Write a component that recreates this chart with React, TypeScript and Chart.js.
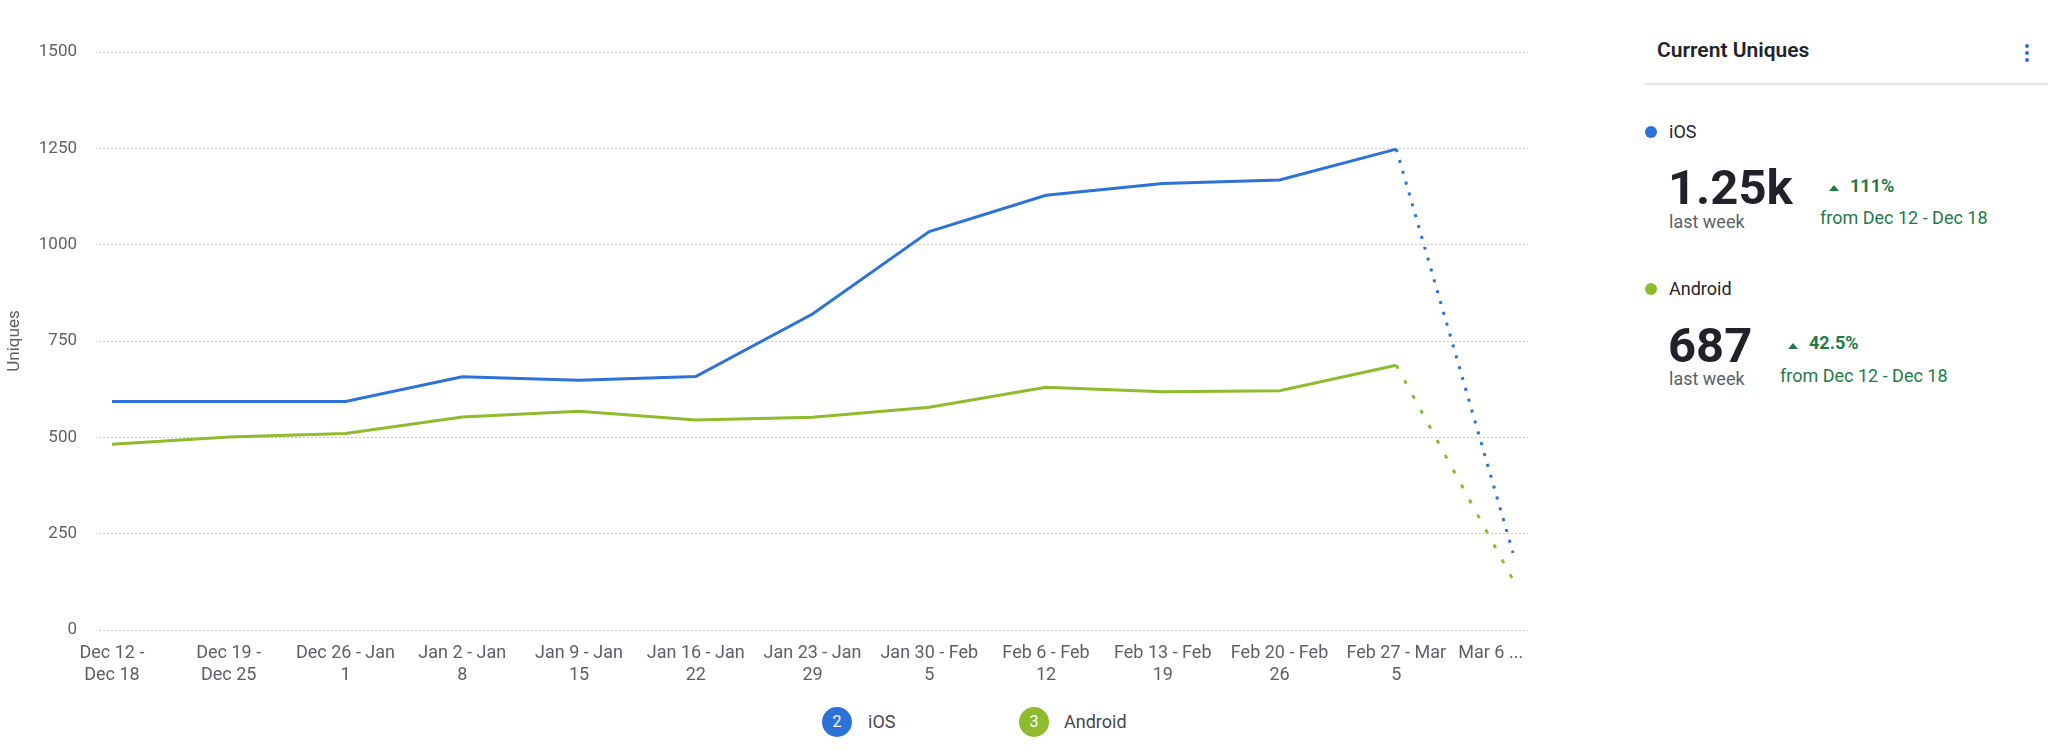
import React, { useEffect, useRef } from "react";
import { Chart, registerables } from "chart.js";

Chart.register(...registerables);

const categories: string[][] = [
  ["Dec 12 -", "Dec 18"],
  ["Dec 19 -", "Dec 25"],
  ["Dec 26 - Jan", "1"],
  ["Jan 2 - Jan", "8"],
  ["Jan 9 - Jan", "15"],
  ["Jan 16 - Jan", "22"],
  ["Jan 23 - Jan", "29"],
  ["Jan 30 - Feb", "5"],
  ["Feb 6 - Feb", "12"],
  ["Feb 13 - Feb", "19"],
  ["Feb 20 - Feb", "26"],
  ["Feb 27 - Mar", "5"],
  ["Mar 6 ..."],
];

const iosValues: number[] = [593, 593, 593, 657, 648, 658, 820, 1034, 1128, 1159, 1168, 1248, 200];
const androidValues: number[] = [482, 501, 510, 553, 568, 545, 552, 578, 630, 618, 621, 687, 130];

const yTicks: number[] = [0, 250, 500, 750, 1000, 1250, 1500];

const IOS_COLOR = "#2c72d9";
const ANDROID_COLOR = "#8fbb2f";
const GREEN_TEXT = "#1f7a48";
const DARK = "#1f2329";
const FONT = "Roboto, 'Open Sans', sans-serif";

function ChartCanvas() {
  const ref = useRef<HTMLCanvasElement | null>(null);
  useEffect(() => {
    if (!ref.current) return;
    const lastIdx = categories.length - 1;
    const chart = new Chart(ref.current, {
      type: "line",
      data: {
        datasets: [
          {
            label: "iOS",
            data: iosValues.map((v, i) => ({ x: i, y: v })),
            borderColor: IOS_COLOR,
            backgroundColor: IOS_COLOR,
            borderWidth: 3,
            pointRadius: 0,
            tension: 0,
            segment: {
              borderDash: (ctx: any) => (ctx.p1DataIndex === lastIdx ? [3, 8.3] : undefined),
            },
          },
          {
            label: "Android",
            data: androidValues.map((v, i) => ({ x: i, y: v })),
            borderColor: ANDROID_COLOR,
            backgroundColor: ANDROID_COLOR,
            borderWidth: 3,
            pointRadius: 0,
            tension: 0,
            segment: {
              borderDash: (ctx: any) => (ctx.p1DataIndex === lastIdx ? [4, 13] : undefined),
            },
          },
        ],
      },
      options: {
        animation: false,
        responsive: false,
        devicePixelRatio: 1,
        layout: { padding: { left: 0, top: 52, right: 72, bottom: 0 } },
        plugins: { legend: { display: false }, tooltip: { enabled: false } },
        scales: {
          x: {
            type: "linear",
            min: -0.111,
            max: 12.128,
            afterBuildTicks: (axis: any) => {
              axis.ticks = categories.map((_, i) => ({ value: i }));
            },
            afterFit: (axis: any) => {
              axis.height = 70;
            },
            grid: { display: false, drawTicks: false },
            border: { display: false },
            ticks: {
              autoSkip: false,
              maxRotation: 0,
              minRotation: 0,
              padding: 13,
              color: "#5c5f63",
              font: { family: FONT, size: 18, lineHeight: 1.22 },
              callback: (v: any) => {
                const i = Math.round(Number(v));
                const lbl = categories[i];
                if (!lbl) return "";
                // the truncated last label sits left of its point, as in the source
                if (i === lastIdx) return lbl.map((s) => s + "\u00a0".repeat(10));
                return lbl;
              },
            },
          },
          y: {
            min: yTicks[0],
            max: yTicks[yTicks.length - 1],
            afterBuildTicks: (axis: any) => {
              axis.ticks = yTicks.map((v) => ({ value: v }));
            },
            afterFit: (axis: any) => {
              axis.width = 99;
            },
            grid: { color: "#c9c9c9", lineWidth: 1, drawTicks: false },
            border: { display: false, dash: [2, 2] },
            ticks: {
              padding: 22,
              color: "#5c5f63",
              font: { family: FONT, size: 17 },
              callback: (v: any) => String(v),
            },
            title: {
              display: true,
              text: "Uniques",
              color: "#5c5f63",
              font: { family: FONT, size: 17 },
              padding: { top: 5, bottom: 0 },
            },
          },
        },
      },
    });
    return () => chart.destroy();
  }, []);
  return (
    <canvas
      ref={ref}
      width={1600}
      height={700}
      style={{ position: "absolute", left: 0, top: 0, width: 1600, height: 700 }}
    />
  );
}

function Txt(props: {
  x: number;
  cy: number;
  size: number;
  weight?: number;
  color?: string;
  children: React.ReactNode;
}) {
  const { x, cy, size, weight = 400, color = DARK, children } = props;
  return (
    <div
      style={{
        position: "absolute",
        left: x,
        top: cy - size / 2,
        fontSize: size,
        lineHeight: `${size}px`,
        fontWeight: weight,
        color,
        fontFamily: FONT,
        whiteSpace: "nowrap",
      }}
    >
      {children}
    </div>
  );
}

function Dot(props: { cx: number; cy: number; d: number; color: string; children?: React.ReactNode }) {
  const { cx, cy, d, color, children } = props;
  return (
    <div
      style={{
        position: "absolute",
        left: cx - d / 2,
        top: cy - d / 2,
        width: d,
        height: d,
        borderRadius: "50%",
        background: color,
        color: "#fff",
        fontFamily: FONT,
        fontSize: 16,
        lineHeight: `${d}px`,
        textAlign: "center",
      }}
    >
      {children}
    </div>
  );
}

function Tri(props: { cx: number; cy: number }) {
  const { cx, cy } = props;
  return (
    <div
      style={{
        position: "absolute",
        left: cx - 5.5,
        top: cy - 3,
        width: 0,
        height: 0,
        borderLeft: "5.5px solid transparent",
        borderRight: "5.5px solid transparent",
        borderBottom: `6px solid ${GREEN_TEXT}`,
      }}
    />
  );
}

export default function App() {
  return (
    <div
      style={{
        position: "absolute",
        left: 0,
        top: 0,
        width: 2048,
        height: 753,
        background: "#fff",
        overflow: "hidden",
      }}
    >
      <ChartCanvas />

      {/* legend */}
      <Dot cx={837} cy={722} d={30} color={IOS_COLOR}>2</Dot>
      <Txt x={868} cy={722} size={18} color="#45484d">iOS</Txt>
      <Dot cx={1034} cy={722} d={30} color={ANDROID_COLOR}>3</Dot>
      <Txt x={1064} cy={722} size={18} color="#45484d">Android</Txt>

      {/* side panel */}
      <Txt x={1657} cy={50} size={21} weight={600}>Current Uniques</Txt>
      <Dot cx={2027} cy={46} d={4} color={IOS_COLOR} />
      <Dot cx={2027} cy={53} d={4} color={IOS_COLOR} />
      <Dot cx={2027} cy={60} d={4} color={IOS_COLOR} />
      <div
        style={{ position: "absolute", left: 1644, top: 83, width: 404, height: 2, background: "#e3e4e6" }}
      />

      <Dot cx={1651} cy={132} d={12} color={IOS_COLOR} />
      <Txt x={1669} cy={132} size={18}>iOS</Txt>
      <Txt x={1668} cy={187} size={49} weight={700}>1.25k</Txt>
      <Txt x={1669} cy={222} size={18} color="#5b5f66">last week</Txt>
      <Tri cx={1834} cy={188} />
      <Txt x={1850} cy={186} size={18} weight={700} color={GREEN_TEXT}>111%</Txt>
      <Txt x={1820} cy={218} size={18} color={GREEN_TEXT}>from Dec 12 - Dec 18</Txt>

      <Dot cx={1651} cy={289} d={12} color={ANDROID_COLOR} />
      <Txt x={1669} cy={289} size={18}>Android</Txt>
      <Txt x={1668} cy={345} size={49} weight={700}>687</Txt>
      <Txt x={1669} cy={379} size={18} color="#5b5f66">last week</Txt>
      <Tri cx={1793} cy={346} />
      <Txt x={1809} cy={343} size={18} weight={700} color={GREEN_TEXT}>42.5%</Txt>
      <Txt x={1780} cy={376} size={18} color={GREEN_TEXT}>from Dec 12 - Dec 18</Txt>
    </div>
  );
}
